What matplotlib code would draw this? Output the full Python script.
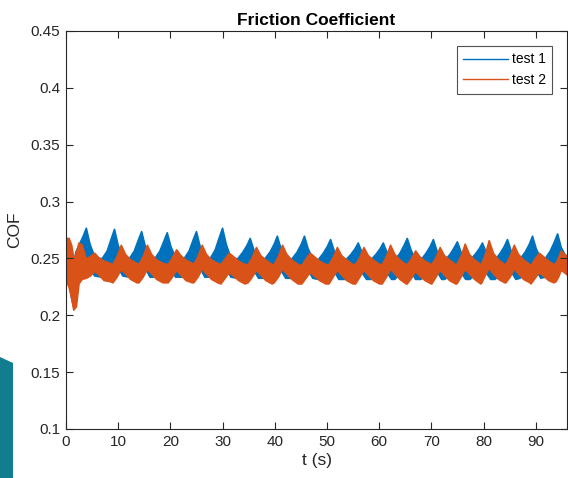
import matplotlib
matplotlib.use("Agg")
import matplotlib.pyplot as plt
from matplotlib.patches import Polygon

plt.rcParams['font.family'] = ['Liberation Sans', 'DejaVu Sans']

# ---- test 1 (blue): upper / lower envelope of the noisy band ----
t1 = [0.0, 0.5, 1.0, 1.4, 1.8,
      2.4, 3.2, 3.8, 4.5, 5.4,
      6.8, 7.8, 8.6, 9.2, 9.9, 10.8,
      12.0, 13.0, 13.8, 14.4, 15.1, 16.0,
      16.9, 17.9, 18.7, 19.3, 20.0, 20.9,
      22.5, 23.5, 24.3, 24.9, 25.6, 26.5,
      27.5, 28.5, 29.3, 29.9, 30.6, 31.5,
      32.8, 33.8, 34.6, 35.2, 35.9, 36.8,
      38.0, 39.0, 39.8, 40.4, 41.1, 42.0,
      43.2, 44.2, 45.0, 45.6, 46.3, 47.2,
      48.2, 49.2, 50.0, 50.6, 51.3, 52.2,
      53.5, 54.5, 55.3, 55.9, 56.6, 57.5,
      58.3, 59.3, 60.1, 60.7, 61.4, 62.3,
      62.9, 63.9, 64.7, 65.3, 66.0, 66.9,
      67.9, 68.9, 69.7, 70.3, 71.0, 71.9,
      72.5, 73.5, 74.3, 74.9, 75.6, 76.5,
      77.3, 78.3, 79.1, 79.7, 80.4, 81.3,
      82.1, 83.1, 83.9, 84.5, 85.2, 86.1,
      86.9, 87.9, 88.7, 89.3, 90.0, 90.9,
      91.7, 92.7, 93.5, 94.1, 94.8, 95.5, 96.0]
up1 = [0.262, 0.265, 0.255, 0.246, 0.256,
       0.262, 0.270, 0.277, 0.263, 0.252,
       0.250, 0.257, 0.268, 0.276, 0.262, 0.251,
       0.250, 0.257, 0.267, 0.274, 0.261, 0.251,
       0.250, 0.257, 0.266, 0.273, 0.261, 0.251,
       0.250, 0.257, 0.267, 0.274, 0.261, 0.251,
       0.250, 0.258, 0.269, 0.277, 0.263, 0.251,
       0.250, 0.256, 0.262, 0.268, 0.258, 0.250,
       0.250, 0.256, 0.263, 0.270, 0.259, 0.250,
       0.250, 0.256, 0.263, 0.270, 0.259, 0.250,
       0.249, 0.255, 0.261, 0.267, 0.257, 0.249,
       0.249, 0.254, 0.259, 0.264, 0.256, 0.249,
       0.249, 0.254, 0.259, 0.264, 0.256, 0.249,
       0.249, 0.255, 0.262, 0.268, 0.258, 0.249,
       0.249, 0.255, 0.261, 0.267, 0.257, 0.249,
       0.249, 0.254, 0.260, 0.265, 0.256, 0.249,
       0.249, 0.254, 0.259, 0.264, 0.256, 0.249,
       0.249, 0.255, 0.261, 0.267, 0.257, 0.249,
       0.250, 0.256, 0.263, 0.270, 0.259, 0.250,
       0.250, 0.257, 0.265, 0.272, 0.260, 0.254, 0.252]
lo1 = [0.232, 0.228, 0.215, 0.207, 0.225,
       0.236, 0.243, 0.247, 0.242, 0.235,
       0.234, 0.238, 0.243, 0.247, 0.242, 0.235,
       0.234, 0.238, 0.243, 0.247, 0.242, 0.234,
       0.234, 0.238, 0.243, 0.246, 0.241, 0.234,
       0.234, 0.238, 0.243, 0.247, 0.242, 0.234,
       0.234, 0.239, 0.244, 0.248, 0.242, 0.234,
       0.233, 0.237, 0.241, 0.245, 0.240, 0.233,
       0.233, 0.237, 0.242, 0.246, 0.240, 0.233,
       0.233, 0.237, 0.242, 0.246, 0.240, 0.233,
       0.232, 0.236, 0.241, 0.245, 0.239, 0.232,
       0.232, 0.236, 0.240, 0.244, 0.238, 0.232,
       0.232, 0.236, 0.240, 0.244, 0.238, 0.232,
       0.232, 0.237, 0.241, 0.245, 0.239, 0.232,
       0.232, 0.236, 0.241, 0.245, 0.239, 0.232,
       0.232, 0.236, 0.240, 0.244, 0.238, 0.232,
       0.232, 0.236, 0.240, 0.244, 0.238, 0.232,
       0.232, 0.236, 0.241, 0.245, 0.239, 0.232,
       0.233, 0.237, 0.242, 0.246, 0.240, 0.233,
       0.234, 0.238, 0.243, 0.247, 0.242, 0.238, 0.236]

# ---- test 2 (orange): upper / lower envelope of the noisy band ----
t2 = [0.0, 0.5, 1.0, 1.4, 1.9, 2.4, 3.0,
      3.8, 4.6, 5.4, 6.2, 7.2, 8.4,
      8.9, 9.7, 10.5, 11.3, 12.3, 13.5,
      13.9, 14.7, 15.5, 16.3, 17.3, 18.5,
      19.5, 20.3, 21.1, 21.9, 22.9, 24.1,
      24.4, 25.2, 26.0, 26.8, 27.8, 29.0,
      29.6, 30.4, 31.2, 32.0, 33.0, 34.2,
      34.8, 35.6, 36.4, 37.2, 38.2, 39.4,
      39.8, 40.6, 41.4, 42.2, 43.2, 44.4,
      45.1, 45.9, 46.7, 47.5, 48.5, 49.7,
      50.3, 51.1, 51.9, 52.7, 53.7, 54.9,
      55.4, 56.2, 57.0, 57.8, 58.8, 60.0,
      60.5, 61.3, 62.1, 62.9, 63.9, 65.1,
      65.3, 66.1, 66.9, 67.7, 68.7, 69.9,
      70.0, 70.8, 71.6, 72.4, 73.4, 74.6,
      74.8, 75.6, 76.4, 77.2, 78.2, 79.4,
      79.6, 80.2, 81.0, 81.8, 82.8, 84.0,
      84.2, 85.0, 85.8, 86.6, 87.6, 88.8,
      89.0, 89.8, 90.6, 91.4, 92.4, 93.4,
      93.8, 94.3, 94.8, 95.4, 96.0]
up2 = [0.268, 0.268, 0.262, 0.250, 0.255, 0.264, 0.262,
       0.250, 0.252, 0.255, 0.251, 0.248, 0.246,
       0.245, 0.252, 0.262, 0.254, 0.249, 0.246,
       0.245, 0.252, 0.262, 0.254, 0.249, 0.246,
       0.245, 0.251, 0.258, 0.253, 0.249, 0.246,
       0.245, 0.252, 0.262, 0.254, 0.249, 0.246,
       0.245, 0.250, 0.255, 0.252, 0.248, 0.245,
       0.245, 0.251, 0.260, 0.253, 0.249, 0.245,
       0.245, 0.252, 0.262, 0.254, 0.249, 0.245,
       0.244, 0.250, 0.255, 0.252, 0.248, 0.245,
       0.245, 0.251, 0.260, 0.253, 0.249, 0.245,
       0.245, 0.251, 0.260, 0.253, 0.249, 0.245,
       0.245, 0.252, 0.262, 0.254, 0.249, 0.245,
       0.245, 0.250, 0.257, 0.252, 0.248, 0.245,
       0.245, 0.251, 0.260, 0.253, 0.249, 0.245,
       0.245, 0.252, 0.263, 0.254, 0.249, 0.245,
       0.246, 0.253, 0.266, 0.255, 0.249, 0.245,
       0.245, 0.252, 0.262, 0.254, 0.249, 0.245,
       0.244, 0.250, 0.255, 0.252, 0.248, 0.245,
       0.246, 0.251, 0.257, 0.254, 0.252]
lo2 = [0.230, 0.225, 0.215, 0.205, 0.208, 0.228, 0.232,
       0.233, 0.235, 0.239, 0.236, 0.231, 0.230,
       0.229, 0.234, 0.241, 0.237, 0.232, 0.229,
       0.229, 0.234, 0.241, 0.237, 0.232, 0.229,
       0.229, 0.234, 0.240, 0.236, 0.231, 0.229,
       0.229, 0.234, 0.241, 0.237, 0.232, 0.229,
       0.228, 0.233, 0.238, 0.235, 0.231, 0.228,
       0.229, 0.234, 0.240, 0.236, 0.231, 0.228,
       0.229, 0.234, 0.241, 0.237, 0.232, 0.228,
       0.228, 0.233, 0.238, 0.235, 0.231, 0.228,
       0.228, 0.234, 0.240, 0.236, 0.231, 0.228,
       0.228, 0.234, 0.240, 0.236, 0.231, 0.228,
       0.228, 0.234, 0.241, 0.237, 0.232, 0.228,
       0.228, 0.233, 0.239, 0.235, 0.231, 0.228,
       0.228, 0.234, 0.240, 0.236, 0.231, 0.228,
       0.228, 0.234, 0.241, 0.237, 0.232, 0.228,
       0.229, 0.235, 0.242, 0.237, 0.232, 0.229,
       0.229, 0.234, 0.241, 0.237, 0.232, 0.229,
       0.228, 0.233, 0.238, 0.235, 0.231, 0.229,
       0.230, 0.234, 0.240, 0.238, 0.236]

series_labels = ['test 1', 'test 2']
series_colors = ['#0072BD', '#D95319']
x_ticks = [0, 10, 20, 30, 40, 50, 60, 70, 80, 90]
y_ticks = [0.1, 0.15, 0.2, 0.25, 0.3, 0.35, 0.4, 0.45]

W, H = 568, 478
fig = plt.figure(figsize=(W / 100, H / 100), dpi=100)
ax = fig.add_axes([66 / W, (H - 429) / H, (567 - 66) / W, (429 - 31) / H])

fg = '#262626'
for t, up, lo, c, lab in [(t1, up1, lo1, series_colors[0], series_labels[0]),
                          (t2, up2, lo2, series_colors[1], series_labels[1])]:
    ax.fill_between(t, lo, up, color=c, linewidth=1.2, edgecolor=c)
    ax.plot([], [], color=c, linewidth=1.0, label=lab)

ax.set_xlim(0, 96)
ax.set_ylim(0.1, 0.45)
ax.set_xticks(x_ticks)
ax.set_yticks(y_ticks)
ax.set_yticklabels([f'{v:g}' for v in y_ticks])
ax.tick_params(direction='in', length=5, width=0.8, top=True, right=True,
               labelsize=11, colors=fg, pad=4)
for s in ax.spines.values():
    s.set_color(fg)
    s.set_linewidth(0.8)

ax.set_title('Friction Coefficient', fontsize=12.5, fontweight='bold', color='black', pad=4)
ax.set_xlabel('t (s)', fontsize=12.5, color=fg, labelpad=3)
ax.set_ylabel('COF', fontsize=12.5, color=fg, labelpad=6)

leg = ax.legend(loc='upper right', bbox_to_anchor=(0.97, 0.962), fontsize=10,
                frameon=True, fancybox=False, borderpad=0.45, handlelength=3.25,
                handletextpad=0.25, labelspacing=0.5, borderaxespad=0)
leg.get_frame().set_edgecolor(fg)
leg.get_frame().set_linewidth(0.8)

# teal decoration at the lower-left edge of the reference image
fig.patches.append(Polygon([(0, (H - 357) / H), (13 / W, (H - 363) / H),
                            (13 / W, 0), (0, 0)], closed=True,
                           transform=fig.transFigure, facecolor='#137d90',
                           edgecolor='none'))

fig.savefig('out.png', dpi=100)
